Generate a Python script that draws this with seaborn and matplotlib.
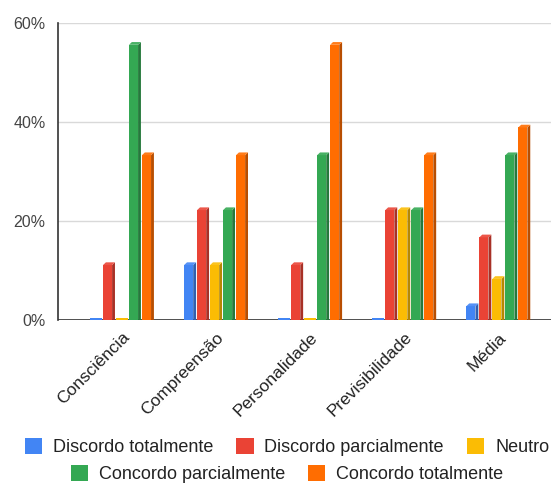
import matplotlib
matplotlib.use("Agg")
import matplotlib.pyplot as plt
from matplotlib.patches import Polygon, Patch
import matplotlib.colors as mcolors
import seaborn as sns
import pandas as pd

categories = ["Consciência", "Compreensão", "Personalidade", "Previsibilidade", "Média"]
series = ["Discordo totalmente", "Discordo parcialmente", "Neutro",
          "Concordo parcialmente", "Concordo totalmente"]
discordo_totalmente = [0.0, 11.1, 0.0, 0.0, 2.8]
discordo_parcialmente = [11.1, 22.2, 11.1, 22.2, 16.7]
neutro = [0.0, 11.1, 0.0, 22.2, 8.3]
concordo_parcialmente = [55.6, 22.2, 33.3, 22.2, 33.3]
concordo_totalmente = [33.3, 33.3, 55.6, 33.3, 38.9]
colors = ["#4285F4", "#EA4335", "#FBBC04", "#34A853", "#FF6D01"]
y_ticks = [0, 20, 40, 60]

values = [discordo_totalmente, discordo_parcialmente, neutro,
          concordo_parcialmente, concordo_totalmente]
rows = []
for s, vals in zip(series, values):
    for c, v in zip(categories, vals):
        rows.append({"categoria": c, "resposta": s, "valor": v})
df = pd.DataFrame(rows)

sns.set_theme(style="white")
plt.rcParams["font.family"] = ["Liberation Sans", "DejaVu Sans"]

fig = plt.figure(figsize=(5.51, 4.83), dpi=100)
ax = fig.add_axes([58 / 551, 163 / 483, 493 / 551, 297 / 483])

sns.barplot(data=df, x="categoria", y="valor", hue="resposta",
            order=categories, hue_order=series, palette=colors,
            width=0.69, gap=0.08, ax=ax, legend=False, saturation=1,
            linewidth=0, errorbar=None)

ax.set_xlim(-0.68, 4.56)
ax.set_ylim(0, 60)

# pseudo-3D shading on each bar: darker right side and a raised top edge
dy = 0.55
for p in list(ax.patches):
    x0 = p.get_x()
    w = p.get_width()
    h = p.get_height()
    base = mcolors.to_rgb(p.get_facecolor())
    dark = tuple(c * 0.72 for c in base)
    light = tuple(min(1, c * 0.9 + 0.1) for c in base)
    xf = x0 + w * 0.76
    xe = x0 + w
    if h <= 0:
        p.set_visible(False)
        ax.add_patch(Polygon([(x0, 0), (xe, 0), (xe, 0.5), (x0, 0.5)],
                             closed=True, facecolor=base, edgecolor="none",
                             zorder=3, clip_on=False))
        continue
    p.set_width(w * 0.76)
    p.set_zorder(3)
    ax.add_patch(Polygon([(xf, 0), (xe, 0), (xe, h + dy), (xf, h)],
                         closed=True, facecolor=dark, edgecolor="none", zorder=3))
    ax.add_patch(Polygon([(x0, h), (xf, h), (xe, h + dy), (x0 + w * 0.24, h + dy)],
                         closed=True, facecolor=light, edgecolor="none", zorder=3))

ax.set_yticks(y_ticks)
ax.set_yticklabels([f"{t}%" for t in y_ticks], fontsize=11.5, color="#444444")
ax.yaxis.grid(True, color="#d9d9d9", linewidth=1)
ax.set_axisbelow(True)
ax.tick_params(axis="y", length=0, pad=9)
ax.tick_params(axis="x", length=0, pad=7)
ax.set_xticks(range(len(categories)))
ax.set_xticklabels(categories, rotation=45, ha="right", rotation_mode="anchor",
                   fontsize=12.5, color="#222222")
ax.set_xlabel("")
ax.set_ylabel("")
for side in ["top", "right", "bottom"]:
    ax.spines[side].set_visible(False)
ax.spines["left"].set_color("#333333")
ax.spines["left"].set_linewidth(1.2)
ax.axhline(0, color="#333333", linewidth=1.2, zorder=2)

handles = [Patch(facecolor=c, edgecolor="none") for c in colors]
legend_kw = dict(loc="center", frameon=False, fontsize=13,
                 handlelength=0.95, handleheight=0.95,
                 handletextpad=0.6, columnspacing=1.3, labelcolor="#222222")
fig.legend(handles[:3], series[:3], ncol=3,
           bbox_to_anchor=(287 / 551, 1 - 447 / 483), **legend_kw)
fig.legend(handles[3:], series[3:], ncol=2,
           bbox_to_anchor=(287 / 551, 1 - 474 / 483), **legend_kw)

fig.savefig("out.png", dpi=100)
